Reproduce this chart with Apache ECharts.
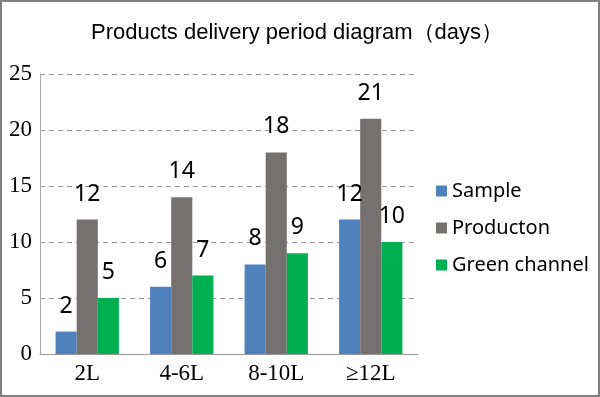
<!DOCTYPE html>
<html style="height: 100%">
<head>
    <meta charset="utf-8">
    <script src="https://cdn.jsdelivr.net/npm/echarts@6/dist/echarts.min.js"></script>
</head>
<body style="height: 100%; margin: 0">
<div id="container" style="width: 596px; height: 393px; border: 2px solid #808080; background: #fff"></div>

<script type="text/javascript">
    var categories = ['2L', '4-6L', '8-10L', '≥12L'];
    var sample = [2, 6, 8, 12];
    var production = [12, 14, 18, 21];
    var green = [5, 7, 9, 10];

    var myChart = echarts.init(document.getElementById('container'));

    var labelStyle = {
        show: true,
        position: 'top',
        distance: 14,
        color: '#000',
        fontSize: 23,
        fontFamily: 'Noto Sans'
    };

    var option = {
        animation: false,
        title: {
            text: 'Products delivery period diagram（days）',
            left: 84,
            top: 15,
            textStyle: {
                fontFamily: 'Liberation Sans',
                fontWeight: 'normal',
                fontSize: 22,
                color: '#000'
            }
        },
        legend: {
            orient: 'vertical',
            left: 429,
            top: 174,
            itemGap: 17,
            itemWidth: 11,
            itemHeight: 11,
            icon: 'rect',
            textStyle: {
                fontFamily: 'Noto Sans',
                fontSize: 20,
                color: '#000'
            }
        },
        grid: {
            left: 38,
            top: 72,
            width: 378,
            height: 280
        },
        xAxis: {
            type: 'category',
            data: categories,
            axisTick: {show: false},
            axisLine: {lineStyle: {color: '#999', width: 1}},
            axisLabel: {
                color: '#000',
                fontSize: 23,
                fontFamily: 'Liberation Serif',
                margin: 8
            }
        },
        yAxis: {
            type: 'value',
            min: 0,
            max: 25,
            interval: 5,
            axisLine: {show: true, lineStyle: {color: '#aaa', width: 1}},
            axisTick: {show: false},
            splitLine: {lineStyle: {color: '#999', type: [5, 4]}},
            axisLabel: {
                color: '#000',
                fontSize: 23,
                fontFamily: 'Liberation Serif',
                margin: 8
            }
        },
        series: [
            {
                name: 'Sample',
                type: 'bar',
                data: sample,
                barGap: '0%',
                barCategoryGap: '33%',
                itemStyle: {color: '#4F81BD'},
                label: labelStyle
            },
            {
                name: 'Producton',
                type: 'bar',
                data: production,
                itemStyle: {color: '#767171'},
                label: labelStyle
            },
            {
                name: 'Green channel',
                type: 'bar',
                data: green,
                itemStyle: {color: '#00B050'},
                label: labelStyle
            }
        ]
    };

    myChart.setOption(option, true);
</script>
</body>
</html>
